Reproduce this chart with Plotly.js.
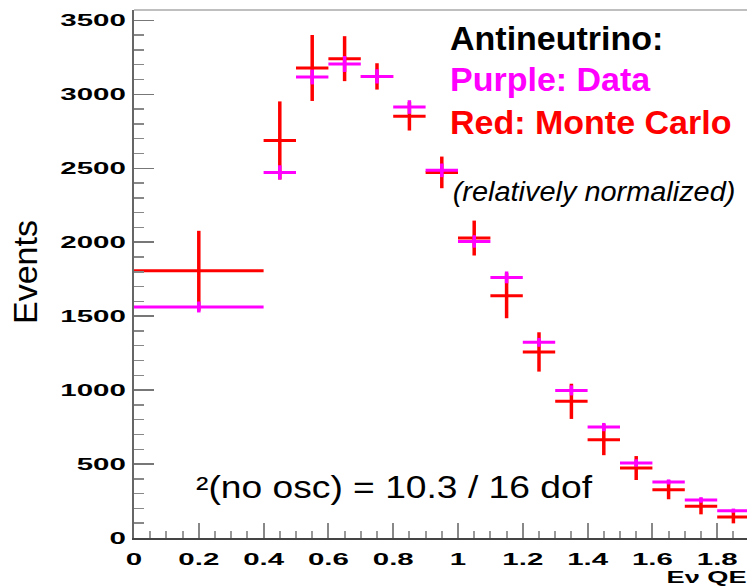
<!DOCTYPE html>
<html>
<head>
<meta charset="utf-8">
<script src="https://cdn.plot.ly/plotly-3.0.1.min.js"></script>
<style>
  html, body { margin: 0; padding: 0; background: #fff; }
  #chart { width: 747px; height: 587px; }
</style>
</head>
<body>
<div id="chart"></div>
<script>
// Reconstructed neutrino energy bins (GeV): bin centres and half widths
var binCenters = [0.2, 0.45, 0.55, 0.65, 0.75, 0.85, 0.95, 1.05, 1.15, 1.25, 1.35, 1.45, 1.55, 1.65, 1.75, 1.85];
var binHalfWidths = [0.2, 0.05, 0.05, 0.05, 0.05, 0.05, 0.05, 0.05, 0.05, 0.05, 0.05, 0.05, 0.05, 0.05, 0.05, 0.05];

// Monte Carlo prediction (relatively normalized) and its uncertainty
var mcEvents = [1807, 2688, 3178, 3241, 3121, 2851, 2472, 2028, 1638, 1258, 924, 665, 473, 327, 214, 142];
var mcErrors = [270, 264, 223, 152, 89, 96, 107, 118, 152, 133, 119, 105, 81, 65, 54, 43];

// Observed antineutrino data and statistical errors
var dataEvents = [1562, 2472, 3117, 3205, 3121, 2914, 2486, 2005, 1762, 1323, 998, 750, 507, 379, 257, 185];
var dataErrors = [37, 48, 50, 54, 48, 46, 46, 42, 40, 30, 34, 28, 25, 17, 19, 14];

var RED = '#ff0000';
var MAGENTA = '#ff00ff';
var FONT = '"Liberation Sans", Arial, Helvetica, sans-serif';

// Plot area geometry in pixels
var W = 747, H = 587;
var M = { l: 134, r: 0, t: 10, b: 49 };
var plotW = W - M.l - M.r, plotH = H - M.t - M.b;
function px(x) { return (x - M.l) / plotW; }
function py(y) { return (H - M.b - y) / plotH; }

function crossTrace(y, yErr, color, thick) {
  return {
    type: 'scatter',
    mode: 'markers',
    x: binCenters,
    y: y,
    marker: { size: 1, color: color },
    error_x: { type: 'data', array: binHalfWidths, symmetric: true, color: color, thickness: thick, width: 0 },
    error_y: { type: 'data', array: yErr, symmetric: true, color: color, thickness: thick + 0.5, width: 0 },
    hoverinfo: 'skip',
    showlegend: false
  };
}

var traces = [
  crossTrace(mcEvents, mcErrors, RED, 3),
  crossTrace(dataEvents, dataErrors, MAGENTA, 3)
];

var tickFont = { family: FONT, size: 16, color: '#000', weight: 'bold' };

var layout = {
  width: W,
  height: H,
  margin: M,
  paper_bgcolor: '#fff',
  plot_bgcolor: '#fff',
  showlegend: false,
  xaxis: {
    range: [0, plotW / 324],
    dtick: 0.2,
    tick0: 0,
    ticks: 'inside',
    ticklen: 15,
    tickwidth: 2,
    tickcolor: '#888',
    minor: { dtick: 0.05, ticks: 'inside', ticklen: 7, tickwidth: 2, tickcolor: '#999' },
    showgrid: false,
    zeroline: false,
    showline: true,
    linecolor: '#444',
    linewidth: 2,
    tickfont: tickFont,
    ticklabelstandoff: 6
  },
  yaxis: {
    range: [0, plotH / 0.1479],
    dtick: 500,
    tick0: 0,
    ticks: 'inside',
    ticklen: 20,
    tickwidth: 1.5,
    tickcolor: '#777',
    minor: { dtick: 100, ticks: 'inside', ticklen: 10, tickwidth: 1.5, tickcolor: '#888' },
    showgrid: false,
    zeroline: false,
    showline: true,
    linecolor: '#666',
    linewidth: 2,
    tickfont: tickFont,
    ticklabelstandoff: 3
  },
  shapes: [
    { type: 'line', xref: 'paper', yref: 'paper', x0: 0, x1: 1, y0: 1, y1: 1,
      line: { color: '#aaa', width: 1.5 } }
  ],
  annotations: [
    { text: 'Antineutrino:', xref: 'paper', yref: 'paper', x: px(448), y: py(38),
      xanchor: 'left', yanchor: 'middle', showarrow: false,
      font: { family: FONT, size: 34, color: '#000', weight: 'bold' } },
    { text: 'Purple: Data', xref: 'paper', yref: 'paper', x: px(448), y: py(79.5),
      xanchor: 'left', yanchor: 'middle', showarrow: false,
      font: { family: FONT, size: 34, color: MAGENTA, weight: 'bold' } },
    { text: 'Red: Monte Carlo', xref: 'paper', yref: 'paper', x: px(448), y: py(122.5),
      xanchor: 'left', yanchor: 'middle', showarrow: false,
      font: { family: FONT, size: 34, color: RED, weight: 'bold' } },
    { text: '(relatively normalized)', xref: 'paper', yref: 'paper', x: px(594), y: py(192),
      xanchor: 'center', yanchor: 'middle', showarrow: false,
      font: { family: FONT, size: 27, color: '#000', style: 'italic' } },
    { text: '²(no osc) = 10.3 / 16 dof', xref: 'paper', yref: 'paper', x: px(394), y: py(487.5),
      xanchor: 'center', yanchor: 'middle', showarrow: false,
      font: { family: FONT, size: 31, color: '#000' } },
    { text: 'Eν QE', xref: 'paper', yref: 'paper', x: px(706), y: py(577.5),
      xanchor: 'center', yanchor: 'middle', showarrow: false,
      font: { family: FONT, size: 16, color: '#000', weight: 'bold' } },
    { text: 'Events', xref: 'paper', yref: 'paper', x: px(25), y: py(272),
      xanchor: 'center', yanchor: 'middle', textangle: -90, showarrow: false,
      font: { family: FONT, size: 34, color: '#000' } }
  ]
};

// Stretch text horizontally to the wide lettering used on this plot
function widen(el, factor) {
  var w = el.getComputedTextLength();
  if (!w) return;
  el.setAttribute('textLength', (w * factor).toFixed(1));
  el.setAttribute('lengthAdjust', 'spacingAndGlyphs');
}

Plotly.newPlot('chart', traces, layout, { displayModeBar: false, staticPlot: true }).then(function (gd) {
  gd.querySelectorAll('.xtick text, .ytick text').forEach(function (t) { widen(t, 1.84); });
  var ann = gd.querySelectorAll('.annotation-text');
  var factors = [1, 1, 1, 1.07, 1.2, 1.7, 1];
  ann.forEach(function (t, i) { if (factors[i] !== 1) widen(t, factors[i]); });
});
</script>
</body>
</html>
